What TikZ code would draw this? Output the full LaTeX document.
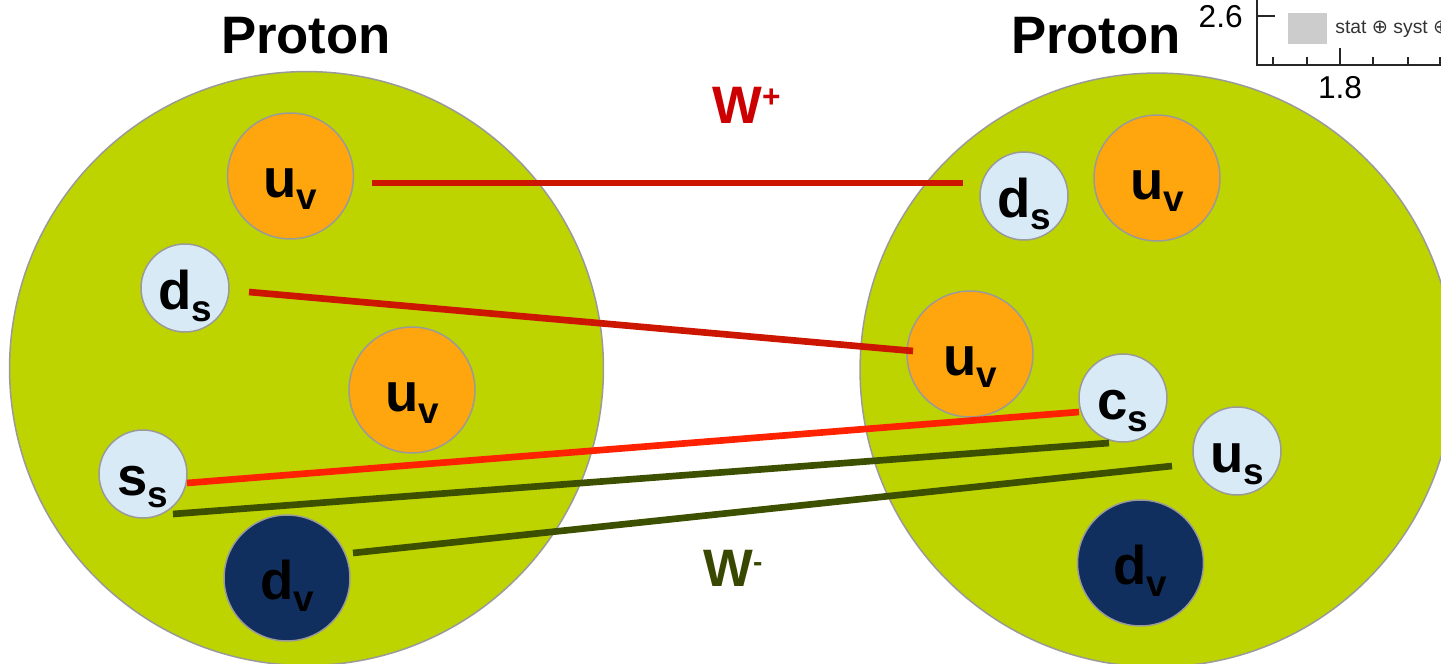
\documentclass[tikz,border=0pt]{standalone}
\usepackage{fontspec}
\setmainfont{Liberation Sans}
\newfontfamily\symfont{DejaVu Sans}
\usetikzlibrary{calc}
\definecolor{protongreen}{HTML}{BDD400}
\definecolor{valorange}{HTML}{FFA50D}
\definecolor{sealight}{HTML}{D7EAF6}
\definecolor{valnavy}{HTML}{112F5E}
\definecolor{rimgray}{HTML}{9A9A9A}
\definecolor{wplusred}{HTML}{CC1600}
\definecolor{wplusbright}{HTML}{FF2200}
\definecolor{wminusolive}{HTML}{3D5000}
\definecolor{wlabelred}{HTML}{CC0000}
\definecolor{wlabelolive}{HTML}{384800}
\definecolor{plotgray}{HTML}{CCCCCC}
\newcommand{\quark}[2]{#1\raisebox{-6.8pt}{\fontsize{21}{21}\selectfont #2}}
\tikzset{
proton/.style={
  circle,
  draw=rimgray,
  line width=0.85pt,
  fill=protongreen,
  minimum size=11.88cm,
  inner sep=0pt
},
quark base/.style={
  circle,
  draw=rimgray,
  line width=0.85pt,
  inner sep=0pt,
  text height=24pt,
  text depth=0pt,
  font=\fontsize{31}{31}\selectfont\bfseries
},
up valence/.style={quark base, fill=valorange, minimum size=2.52cm},
down valence/.style={quark base, fill=valnavy, minimum size=2.52cm},
sea quark/.style={quark base, fill=sealight, minimum size=1.76cm},
title label/.style={font=\fontsize{30}{30}\selectfont\bfseries, anchor=base, inner sep=0pt},
boson label/.style={font=\fontsize{30}{30}\selectfont\bfseries, anchor=base west, inner sep=0pt},
wplus line/.style={draw=wplusred, line width=3.8pt},
wplus bright/.style={draw=wplusbright, line width=3.8pt},
wminus line/.style={draw=wminusolive, line width=3.8pt},
axis line/.style={draw=black!85, line width=0.8pt},
tick text/.style={font=\fontsize{18}{18}\selectfont, inner sep=0pt}
}

\begin{document}
\begin{tikzpicture}[x=0.02cm,y=-0.02cm]
\useasboundingbox (0,0) rectangle (1441,663);
\clip (0,0) rectangle (1441,663);
% the two protons
\node[proton] (pL) at (306.5,368.5) {};
\node[proton] (pR) at (1157,370) {};
\node[title label] (tL) at (306,53) {Proton};
\node[title label] (tR) at (1096,53) {Proton};
% left proton content
\node[up valence] (luvA) at (290.5,176) {\quark{u}{v}};
\node[sea quark] (lds) at (185,288) {\quark{d}{s}};
\node[up valence] (luvB) at (412,390) {\quark{u}{v}};
\node[sea quark] (lss) at (143,474) {\quark{s}{s}};
\node[down valence] (ldv) at (287,578) {\quark{d}{v}};
% right proton content
\node[sea quark] (rds) at (1024,196) {\quark{d}{s}};
\node[up valence] (ruvA) at (1157,178) {\quark{u}{v}};
\node[up valence] (ruvB) at (970,354) {\quark{u}{v}};
\node[sea quark] (rcs) at (1123,398) {\quark{c}{s}};
\node[sea quark] (rus) at (1237,451) {\quark{u}{s}};
\node[down valence] (rdv) at (1140.5,563) {\quark{d}{v}};
% line ends
\coordinate (wpA1) at (372,183);
\coordinate (wpA2) at (963,183);
\coordinate (wpB1) at (249,292);
\coordinate (wpB2) at (913,351);
\coordinate (wpC1) at (187,483);
\coordinate (wpC2) at (1079,412);
\coordinate (wmA1) at (173,514);
\coordinate (wmA2) at (1109,443);
\coordinate (wmB1) at (353,553);
\coordinate (wmB2) at (1172,466);
\draw[wplus line] (wpA1) -- (wpA2);
\draw[wplus line] (wpB1) -- (wpB2);
\draw[wplus bright] (wpC1) -- (wpC2);
\draw[wminus line] (wmA1) -- (wmA2);
\draw[wminus line] (wmB1) -- (wmB2);
\node[boson label, text=wlabelred] (wplus) at (712,123) {W\raisebox{9pt}{\fontsize{18}{18}\selectfont +}};
\node[boson label, text=wlabelolive] (wminus) at (703,586) {W\raisebox{8pt}{\fontsize{16}{16}\selectfont -}};
% corner of a plot
\draw[axis line] (1257,0) -- (1257,65) -- (1441,65);
\draw[axis line] (1257,16) -- (1275,16);
\foreach \tx in {1273,1307,1373,1408,1440}
  \draw[axis line] (\tx,65) -- (\tx,57);
\draw[axis line] (1340,65) -- (1340,48);
\fill[plotgray] (1288,13) rectangle (1327,44);
\node[tick text, anchor=base east] (ylab) at (1243,27) {2.6};
\node[tick text, anchor=base] (xlab) at (1340,98) {1.8};
\node[font=\fontsize{11}{11}\selectfont, text=black!80, anchor=base west, inner sep=0pt] (legend) at (1335,33) {stat {\symfont ⊕} syst {\symfont ⊕}};
\end{tikzpicture}
\end{document}
